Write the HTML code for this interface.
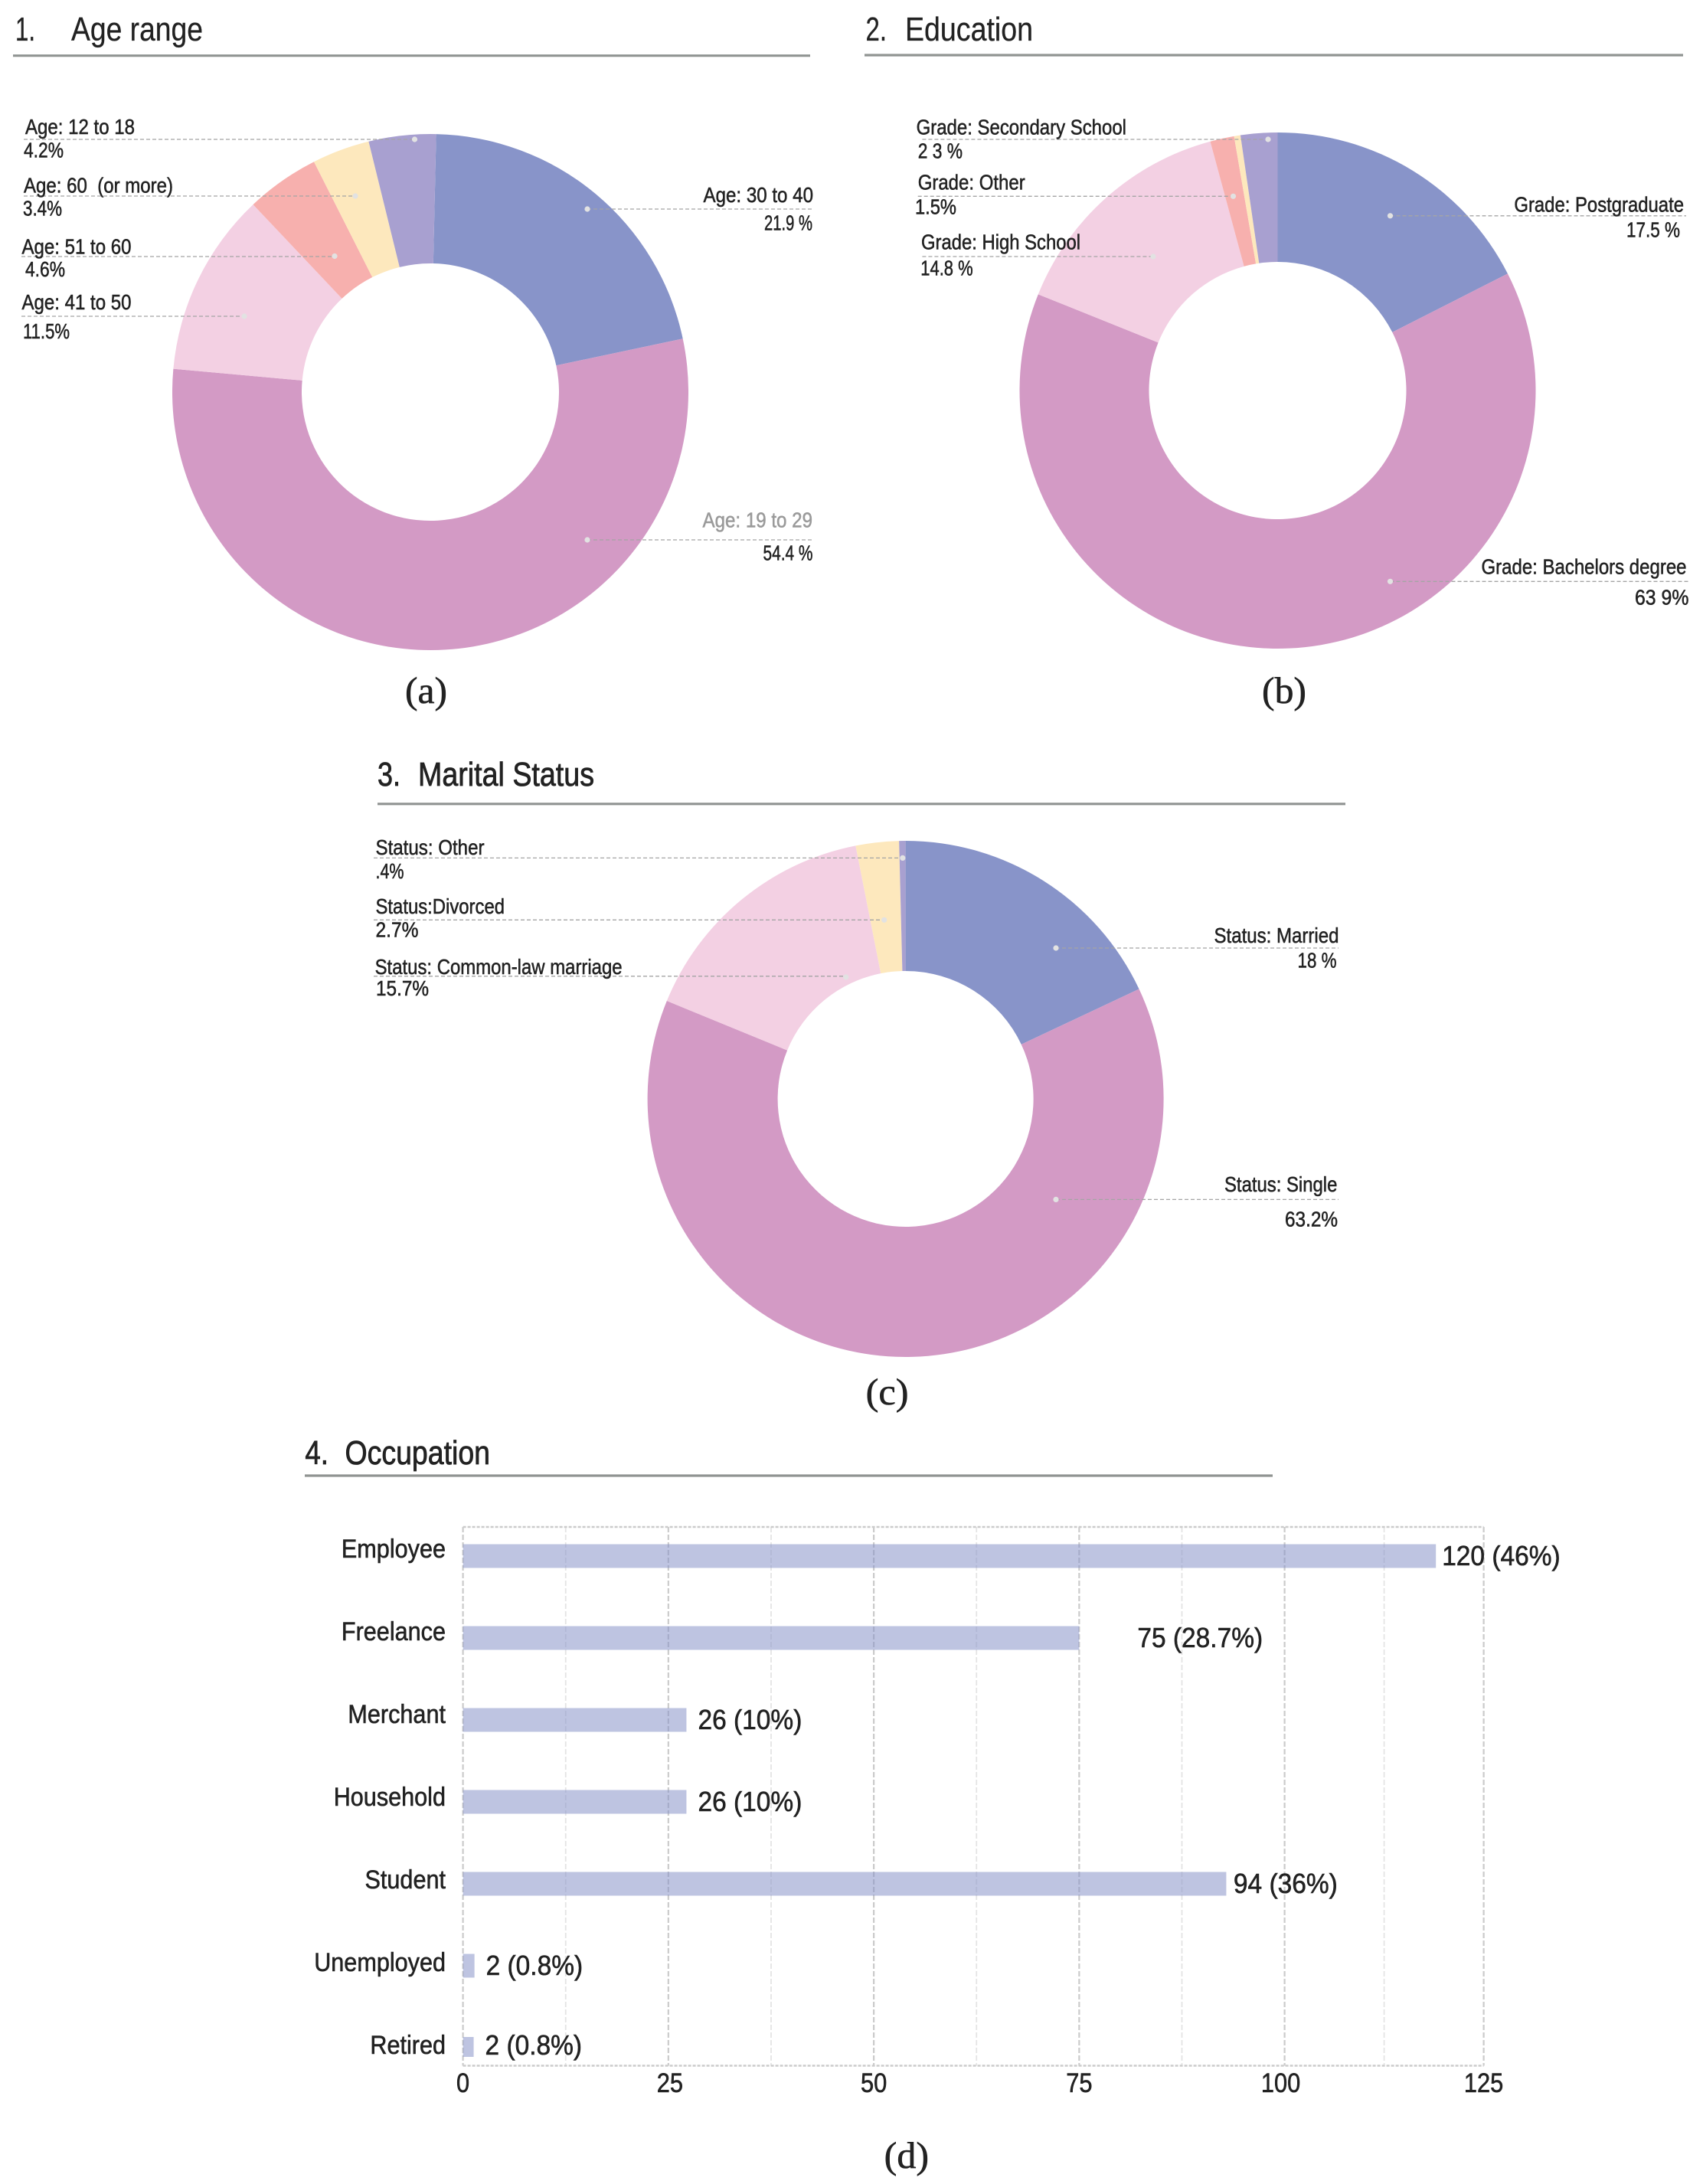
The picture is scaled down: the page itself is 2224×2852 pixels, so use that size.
<!DOCTYPE html>
<html lang="en">
<head>
<meta charset="utf-8">
<title>Survey demographics charts</title>
<style>
html,body{margin:0;padding:0;background:#fff;}
svg{display:block;position:absolute;left:0;top:0;}
text{font-family:"Liberation Sans",sans-serif;fill:#222;}
.lab{font-size:28px;stroke:#222;stroke-width:.55px;}
.ttl{font-size:44px;stroke:#222;stroke-width:.3px;}
.ttl.heavy{stroke-width:.8px;}
.cap{font-family:"Liberation Serif",serif;font-size:49px;stroke:#222;stroke-width:.6px;}
.rule{stroke:#909492;stroke-width:3.2px;}
.lead{stroke:#a5a5a5;stroke-width:1.3px;stroke-dasharray:5 3;fill:none;}
.dot{fill:#e2e2e2;}
</style>
</head>
<body>
<svg xmlns="http://www.w3.org/2000/svg" width="2224" height="2852" viewBox="0 0 2224 2852">
<rect width="2224" height="2852" fill="#fff"/>

<!-- Titles -->
<g>
<text class="ttl" x="20" y="53" textLength="26" lengthAdjust="spacingAndGlyphs">1.</text>
<text class="ttl" x="93" y="53" textLength="172" lengthAdjust="spacingAndGlyphs">Age range</text>
<line class="rule" x1="17" y1="72.7" x2="1058" y2="72.7"/>
</g>
<g>
<text class="ttl" x="1130.5" y="53" textLength="27.5" lengthAdjust="spacingAndGlyphs">2.</text>
<text class="ttl" x="1182" y="53" textLength="167" lengthAdjust="spacingAndGlyphs">Education</text>
<line class="rule" x1="1129" y1="72" x2="2198" y2="72"/>
</g>
<g>
<text class="ttl heavy" x="493" y="1026" textLength="30" lengthAdjust="spacingAndGlyphs">3.</text>
<text class="ttl heavy" x="546" y="1026" textLength="230" lengthAdjust="spacingAndGlyphs">Marital Status</text>
<line class="rule" x1="493" y1="1049.8" x2="1757" y2="1049.8"/>
</g>
<g>
<text class="ttl heavy" x="398.4" y="1912" textLength="30.6" lengthAdjust="spacingAndGlyphs">4.</text>
<text class="ttl heavy" x="450.5" y="1912" textLength="189.5" lengthAdjust="spacingAndGlyphs">Occupation</text>
<line class="rule" x1="398" y1="1927" x2="1662" y2="1927"/>
</g>

<!-- Donut slices drawn by script -->
<g id="donut-a"></g>
<g id="donut-b"></g>
<g id="donut-c"></g>

<!-- Panel a annotations -->
<g>
<line class="lead" x1="31" y1="182" x2="541.5" y2="182"/>
<line class="lead" x1="31" y1="256" x2="464" y2="256"/>
<line class="lead" x1="28" y1="335" x2="437" y2="335"/>
<line class="lead" x1="28" y1="413" x2="319" y2="413"/>
<line class="lead" x1="767" y1="273" x2="1060" y2="273"/>
<line class="lead" x1="767" y1="705" x2="1060" y2="705"/>
<circle class="dot" cx="541.5" cy="182" r="3.6"/>
<circle class="dot" cx="464" cy="256" r="3.6"/>
<circle class="dot" cx="437" cy="334.5" r="3.6"/>
<circle class="dot" cx="319" cy="413" r="3.6"/>
<circle class="dot" cx="767" cy="273" r="3.6"/>
<circle class="dot" cx="767" cy="705" r="3.6"/>
<text class="lab" x="33" y="175" textLength="143" lengthAdjust="spacingAndGlyphs">Age: 12 to 18</text>
<text class="lab" x="31" y="205.5" textLength="52" lengthAdjust="spacingAndGlyphs">4.2%</text>
<text class="lab" x="31" y="251.5" textLength="195" lengthAdjust="spacingAndGlyphs" xml:space="preserve">Age: 60  (or more)</text>
<text class="lab" x="30" y="281.5" textLength="51" lengthAdjust="spacingAndGlyphs">3.4%</text>
<text class="lab" x="28.5" y="331.5" textLength="143" lengthAdjust="spacingAndGlyphs">Age: 51 to 60</text>
<text class="lab" x="33" y="361" textLength="52" lengthAdjust="spacingAndGlyphs">4.6%</text>
<text class="lab" x="28.5" y="404" textLength="143" lengthAdjust="spacingAndGlyphs">Age: 41 to 50</text>
<text class="lab" x="30" y="442" textLength="61" lengthAdjust="spacingAndGlyphs">11.5%</text>
<text class="lab" x="918.5" y="264" textLength="143.5" lengthAdjust="spacingAndGlyphs">Age: 30 to 40</text>
<text class="lab" x="998" y="300.5" textLength="63" lengthAdjust="spacingAndGlyphs">21.9 %</text>
<text class="lab" x="917.5" y="688.5" textLength="143.5" lengthAdjust="spacingAndGlyphs" style="fill:#9a9a9a;stroke:#9a9a9a">Age: 19 to 29</text>
<text class="lab" x="996.5" y="731.5" textLength="65" lengthAdjust="spacingAndGlyphs">54.4 %</text>
</g>

<!-- Panel b annotations -->
<g>
<line class="lead" x1="1204.4" y1="182" x2="1656" y2="182"/>
<line class="lead" x1="1198.7" y1="256.3" x2="1610.5" y2="256.3"/>
<line class="lead" x1="1204.4" y1="335" x2="1506" y2="335"/>
<line class="lead" x1="1815.5" y1="281.8" x2="2202" y2="281.8"/>
<line class="lead" x1="1815.5" y1="759.3" x2="2207" y2="759.3"/>
<circle class="dot" cx="1656" cy="182" r="3.6"/>
<circle class="dot" cx="1610.5" cy="256.3" r="3.6"/>
<circle class="dot" cx="1506" cy="335" r="3.6"/>
<circle class="dot" cx="1815.5" cy="281.8" r="3.6"/>
<circle class="dot" cx="1815.5" cy="759.3" r="3.6"/>
<text class="lab" x="1196.6" y="175.5" textLength="274.4" lengthAdjust="spacingAndGlyphs">Grade: Secondary School</text>
<text class="lab" x="1198.7" y="206.5" textLength="58.3" lengthAdjust="spacingAndGlyphs">2 3 %</text>
<text class="lab" x="1198.7" y="247.5" textLength="140" lengthAdjust="spacingAndGlyphs">Grade: Other</text>
<text class="lab" x="1195" y="279.5" textLength="54" lengthAdjust="spacingAndGlyphs">1.5%</text>
<text class="lab" x="1203" y="325.5" textLength="208" lengthAdjust="spacingAndGlyphs">Grade: High School</text>
<text class="lab" x="1202.3" y="359.5" textLength="68.3" lengthAdjust="spacingAndGlyphs">14.8 %</text>
<text class="lab" x="1977.4" y="276.5" textLength="221.6" lengthAdjust="spacingAndGlyphs">Grade: Postgraduate</text>
<text class="lab" x="2124" y="309.5" textLength="70" lengthAdjust="spacingAndGlyphs">17.5 %</text>
<text class="lab" x="1934.5" y="749.5" textLength="268" lengthAdjust="spacingAndGlyphs">Grade: Bachelors degree</text>
<text class="lab" x="2135" y="789.5" textLength="70.4" lengthAdjust="spacingAndGlyphs">63 9%</text>
</g>

<!-- Panel c annotations -->
<g>
<line class="lead" x1="488" y1="1120.4" x2="1178.8" y2="1120.4"/>
<line class="lead" x1="488" y1="1201.3" x2="1154.7" y2="1201.3"/>
<line class="lead" x1="488" y1="1274.8" x2="1104.7" y2="1274.8"/>
<line class="lead" x1="1379" y1="1238" x2="1748" y2="1238"/>
<line class="lead" x1="1379" y1="1566.4" x2="1748" y2="1566.4"/>
<circle class="dot" cx="1178.8" cy="1120.4" r="3.6"/>
<circle class="dot" cx="1154.7" cy="1201.3" r="3.6"/>
<circle class="dot" cx="1104.7" cy="1276" r="3.6"/>
<circle class="dot" cx="1379" cy="1238" r="3.6"/>
<circle class="dot" cx="1379" cy="1566.4" r="3.6"/>
<text class="lab" x="490.5" y="1116" textLength="142" lengthAdjust="spacingAndGlyphs">Status: Other</text>
<text class="lab" x="490.5" y="1147" textLength="37" lengthAdjust="spacingAndGlyphs">.4%</text>
<text class="lab" x="490.5" y="1193" textLength="168.5" lengthAdjust="spacingAndGlyphs">Status:Divorced</text>
<text class="lab" x="490.5" y="1223.5" textLength="56" lengthAdjust="spacingAndGlyphs">2.7%</text>
<text class="lab" x="489.6" y="1272" textLength="323" lengthAdjust="spacingAndGlyphs">Status: Common-law marriage</text>
<text class="lab" x="491" y="1299.8" textLength="69" lengthAdjust="spacingAndGlyphs">15.7%</text>
<text class="lab" x="1585.5" y="1231" textLength="163" lengthAdjust="spacingAndGlyphs">Status: Married</text>
<text class="lab" x="1694.5" y="1263.5" textLength="51" lengthAdjust="spacingAndGlyphs">18 %</text>
<text class="lab" x="1599" y="1555.8" textLength="147.4" lengthAdjust="spacingAndGlyphs">Status: Single</text>
<text class="lab" x="1678" y="1601.5" textLength="69" lengthAdjust="spacingAndGlyphs">63.2%</text>
</g>

<!-- Bar chart drawn by script -->
<g id="occupation-chart"></g>

<!-- Captions -->
<text class="cap" x="529" y="918" textLength="55" lengthAdjust="spacingAndGlyphs">(a)</text>
<text class="cap" x="1648" y="918" textLength="58" lengthAdjust="spacingAndGlyphs">(b)</text>
<text class="cap" x="1130.6" y="1834" textLength="56" lengthAdjust="spacingAndGlyphs">(c)</text>
<text class="cap" x="1154.7" y="2831" textLength="58.3" lengthAdjust="spacingAndGlyphs">(d)</text>
</svg>

<script>
// Donut data (percent shares)
const ageCategories = ['30 to 40', '19 to 29', '41 to 50', '51 to 60', '60 or more', '12 to 18'];
const ageValues = [21.3, 54.7, 11.5, 4.6, 3.6, 4.2];

const educationCategories = ['Postgraduate', 'Bachelors degree', 'High School', 'Other', 'Unlabelled', 'Secondary School'];
const educationValues = [17.5, 63.5, 14.7, 1.5, 0.4, 2.3];

const maritalCategories = ['Married', 'Single', 'Common-law marriage', 'Divorced', 'Other'];
const maritalValues = [18, 63.2, 15.7, 2.7, 0.4];

// Bar chart data (drawn bar lengths and the printed labels beside them)
const occupationCategories = ['Employee', 'Freelance', 'Merchant', 'Household', 'Student', 'Unemployed', 'Retired'];
const occupationValues = [119, 75, 27.2, 27.2, 92.9, 1.4, 1.3];
const occupationPrinted = ['120 (46%)', '75 (28.7%)', '26 (10%)', '26 (10%)', '94 (36%)', '2 (0.8%)', '2 (0.8%)'];
const occupationMajorTicks = [0, 25, 50, 75, 100, 125];
const occupationMinorTicks = [12.5, 37.5, 62.5, 87.5, 112.5];

const NS = 'http://www.w3.org/2000/svg';

function slicePath(cx, cy, r0, r1, a0, a1) {
  const p = (r, a) => {
    const t = a * Math.PI / 180;
    return (cx + r * Math.sin(t)).toFixed(2) + ' ' + (cy - r * Math.cos(t)).toFixed(2);
  };
  const large = a1 - a0 > 180 ? 1 : 0;
  return 'M' + p(r1, a0) + 'A' + r1 + ' ' + r1 + ' 0 ' + large + ' 1 ' + p(r1, a1) +
         'L' + p(r0, a1) + 'A' + r0 + ' ' + r0 + ' 0 ' + large + ' 0 ' + p(r0, a0) + 'Z';
}

function drawDonut(groupId, categories, values, colors, cx, cy, r1, r0, start) {
  const group = document.getElementById(groupId);
  const total = values.reduce((s, v) => s + v, 0);
  let angle = start;
  values.forEach((v, i) => {
    const next = angle + v / total * 360;
    const path = document.createElementNS(NS, 'path');
    path.setAttribute('d', slicePath(cx, cy, r0, r1, angle, next));
    path.setAttribute('fill', colors[i]);
    
    
    group.appendChild(path);
    angle = next;
  });
}

const BLUE = '#8894c9', PINK = '#d39ac5', LIGHT = '#f3d0e3', SALMON = '#f7b0ae', CREAM = '#fde8bd', PURPLE = '#a8a0d0';
drawDonut('donut-a', ageCategories, ageValues, [BLUE, PINK, LIGHT, SALMON, CREAM, PURPLE], 562, 512, 337, 168, 1.3);
drawDonut('donut-b', educationCategories, educationValues, [BLUE, PINK, LIGHT, SALMON, CREAM, PURPLE], 1668.5, 510, 337, 168, 0);
drawDonut('donut-c', maritalCategories, maritalValues, [BLUE, PINK, LIGHT, CREAM, PURPLE], 1182.6, 1435, 337, 167, 0);

// Bar chart
const chart = document.getElementById('occupation-chart');
const plotTop = 1994, plotBottom = 2697.5, plotLeft = 604.6;
function xScale(v) {
  return v <= 100 ? plotLeft + 10.73 * v : plotLeft + 1073 + (v - 100) * 10.4;
}
function yScale(i) {
  return 2032 + 107 * i;
}
function squeezedText(content, x, y, size, ratio, anchor) {
  const t = document.createElementNS(NS, 'text');
  t.textContent = content;
  t.setAttribute('y', y);
  t.setAttribute('x', x);
  t.setAttribute('font-size', size);
  t.setAttribute('stroke', '#222');
  t.setAttribute('stroke-width', '0.6');
  chart.appendChild(t);
  const width = t.getComputedTextLength() * ratio;
  t.setAttribute('textLength', width.toFixed(1));
  t.setAttribute('lengthAdjust', 'spacingAndGlyphs');
  if (anchor === 'end') t.setAttribute('x', (x - width).toFixed(1));
  if (anchor === 'middle') t.setAttribute('x', (x - width / 2).toFixed(1));
  return t;
}

occupationMinorTicks.forEach(v => {
  const line = document.createElementNS(NS, 'line');
  line.setAttribute('x1', xScale(v));
  line.setAttribute('x2', xScale(v));
  line.setAttribute('y1', plotTop);
  line.setAttribute('y2', plotBottom);
  line.setAttribute('stroke', '#e4e4e4');
  line.setAttribute('stroke-width', '1.8');
  line.setAttribute('stroke-dasharray', '7 3');
  
  
  chart.appendChild(line);
});
occupationMajorTicks.forEach(v => {
  const line = document.createElementNS(NS, 'line');
  line.setAttribute('x1', xScale(v));
  line.setAttribute('x2', xScale(v));
  line.setAttribute('y1', plotTop);
  line.setAttribute('y2', plotBottom);
  line.setAttribute('stroke', '#cbcbcb');
  line.setAttribute('stroke-width', '2.2');
  line.setAttribute('stroke-dasharray', '7 3');
  
  
  chart.appendChild(line);

  const nudge = v === 100 ? -5 : (v === 25 ? 2 : 0);
  const tick = squeezedText(String(v), xScale(v) + nudge, 2732, 35, 0.88, 'middle');
  
  
});

[plotTop, plotBottom].forEach(y => {
  const line = document.createElementNS(NS, 'line');
  line.setAttribute('x1', plotLeft);
  line.setAttribute('x2', xScale(125));
  line.setAttribute('y1', y);
  line.setAttribute('y2', y);
  line.setAttribute('stroke', '#cbcbcb');
  line.setAttribute('stroke-width', '2.6');
  line.setAttribute('stroke-dasharray', '4 2');
  
  
  chart.appendChild(line);
});

occupationCategories.forEach((name, i) => {
  const cy = yScale(i);
  const bar = document.createElementNS(NS, 'rect');
  bar.setAttribute('x', plotLeft);
  bar.setAttribute('y', name === 'Retired' ? cy - 14 : cy - 15.5);
  bar.setAttribute('width', xScale(occupationValues[i]) - plotLeft);
  bar.setAttribute('height', name === 'Retired' ? 26 : 31);
  bar.setAttribute('fill', '#8894c9');
  bar.setAttribute('fill-opacity', '0.55');
  
  
  chart.appendChild(bar);

  const cat = squeezedText(name, 582, 2034 + 108 * i, 34, 0.9, 'end');
  
  

  const gap = name === 'Freelance' ? 76 : (name === 'Employee' ? 8 : (name === 'Student' ? 9.5 : 15));
  const labelY = name === 'Retired' ? cy + 9 : cy + 12;
  const val = squeezedText(occupationPrinted[i], xScale(occupationValues[i]) + gap, labelY, 36, 0.93, 'start');
  
  
});
</script>
</body>
</html>
